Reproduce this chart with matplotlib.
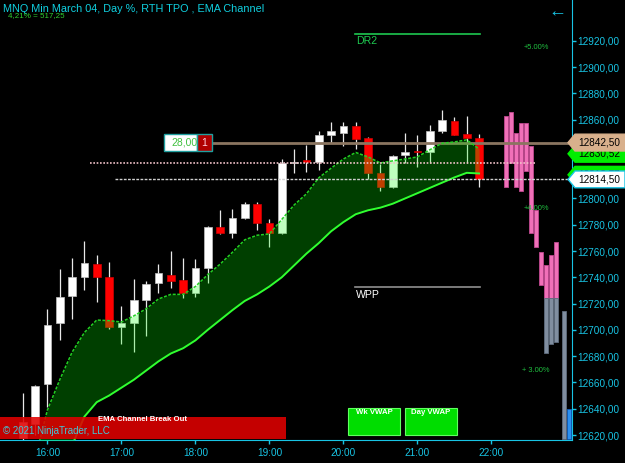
#/usr/bin/env python3

import numpy as np
import matplotlib.pyplot as plt
from matplotlib.patches import Rectangle, Polygon


# DATA
# 10-minute bars
bar_times = ['15:40', '15:50', '16:00', '16:10', '16:20', '16:30', '16:40', '16:50',
             '17:00', '17:10', '17:20', '17:30', '17:40', '17:50', '18:00', '18:10',
             '18:20', '18:30', '18:40', '18:50', '19:00', '19:10', '19:20', '19:30',
             '19:40', '19:50', '20:00', '20:10', '20:20', '20:30', '20:40', '20:50',
             '21:00', '21:10', '21:20', '21:30', '21:40', '21:50']
opens = [12618, 12628, 12659, 12705, 12726, 12740, 12750, 12740, 12702, 12705,
         12723, 12736, 12742, 12738, 12728, 12747, 12778, 12774, 12785, 12796,
         12781, 12774, 12827, 12829, 12828, 12848, 12850, 12855, 12846, 12819,
         12809, 12833, 12836, 12835, 12851, 12859, 12849, 12846]
highs = [12652, 12658, 12716, 12746, 12755, 12768, 12757, 12752, 12718, 12739,
         12737, 12750, 12760, 12755, 12754, 12779, 12791, 12792, 12797, 12797,
         12784, 12830, 12838, 12841, 12851, 12858, 12858, 12858, 12847, 12826,
         12833, 12850, 12848, 12856, 12867, 12862, 12863, 12849]
lows = [12612, 12620, 12641, 12692, 12708, 12730, 12721, 12701, 12689, 12683,
        12695, 12728, 12732, 12724, 12725, 12736, 12773, 12770, 12784, 12776,
        12763, 12773, 12819, 12820, 12822, 12842, 12840, 12838, 12815, 12806,
        12808, 12827, 12824, 12827, 12850, 12848, 12827, 12809]
closes = [12630, 12657, 12704, 12725, 12740, 12751, 12740, 12702, 12705, 12723,
          12735, 12743, 12737, 12728, 12747, 12778, 12774, 12785, 12796, 12781,
          12774, 12827, 12828, 12828, 12848, 12851, 12855, 12845, 12819, 12809,
          12832, 12835, 12835, 12851, 12860, 12848, 12846, 12814.5]

ema_upper = [12560, 12602, 12639, 12662, 12683, 12698, 12707.5, 12707, 12706, 12710.6,
             12716, 12723.5, 12727, 12727, 12733, 12742, 12750, 12759, 12768.5, 12772,
             12773, 12784, 12795, 12803.5, 12815.7, 12823, 12830, 12835, 12831.6, 12827,
             12828.6, 12830, 12831.6, 12837, 12842, 12843, 12844.6, 12837.7]
ema_lower = [12500, 12520, 12545, 12578, 12612, 12634, 12645, 12650, 12656, 12662,
             12669, 12676, 12682, 12686, 12692, 12700, 12707.5, 12715, 12722, 12727,
             12733, 12740, 12749, 12758, 12766, 12775, 12782, 12788, 12791, 12793,
             12796, 12800, 12804, 12808, 12812, 12816, 12819.5, 12819]

# profile columns after 22:00 (minutes past 22:00)
col_minutes = [12, 16, 20, 24, 28, 32, 36, 40, 44, 48, 52, 59]
col_tops = [12863, 12866, 12850, 12857.5, 12857.5, 12840, 12791, 12759, 12749.5, 12757, 12767, 12714.5]
col_bottoms = [12809, 12827, 12809, 12806, 12821, 12774, 12763, 12734, 12682.5, 12689, 12691, 12617]
col_split = 12724
blue_minute = 62.8
blue_top, blue_bottom = 12640, 12617

# levels
last_price = 12814.50
entry_price = 12842.50
dotted_level = 12827.0
dr2_level = 12925.3
wpp_level = 12732.7
pct_labels = ['+5.00%', '+4.00%', '+ 3.00%']
pct_prices = [12915, 12792, 12669]
ema_up_tag, ema_lo_tag = 12834.0, 12818.0
ema_up_text, ema_lo_text = '12830,52', '12818,77'

hour_ticks = [16, 17, 18, 19, 20, 21, 22]
price_ticks = list(range(12620, 12921, 20))

CYAN = '#18c4e4'


def to_hours(t):
    h, m = t.split(':')
    return int(h) + int(m) / 60


def fmt_price(v):
    return f"{v:.2f}".replace('.', ',')


# VISUALIZATION
def visualize():
    plt.rcParams['font.family'] = ['Liberation Sans', 'DejaVu Sans']
    fig = plt.figure(figsize=(6.25, 4.63), dpi=100, facecolor='black')
    ax = fig.add_axes([0, 23 / 463, 572 / 625, 440 / 463], facecolor='black')

    x = np.array([to_hours(t) for t in bar_times])
    o, h, l, c = map(np.array, (opens, highs, lows, closes))
    w = 0.105

    # candles
    ax.vlines(x, l, h, color='#e8e8e8', lw=0.9, zorder=2)
    up = c >= o
    body = np.maximum(np.abs(c - o), 0.8)
    ax.bar(x[up], body[up], bottom=o[up], width=w, color='white',
           edgecolor='#c0c0c0', lw=0.5, zorder=3)
    ax.bar(x[~up], body[~up], bottom=c[~up], width=w, color='#ff0000',
           edgecolor='#d00000', lw=0.5, zorder=3)

    # EMA channel
    ax.fill_between(x, ema_lower, ema_upper, color='#00ff00', alpha=0.25, lw=0, zorder=4)
    ax.plot(x, ema_upper, color='#22d022', lw=1.1, ls=(0, (2, 1)), zorder=5)
    ax.plot(x, ema_lower, color='#30ff30', lw=1.4, zorder=5)

    # profile columns
    cx = 22 + np.array(col_minutes) / 60
    cw = 3.3 / 60
    for xi, top, bot in zip(cx, col_tops, col_bottoms):
        if top > col_split:
            b = max(bot, col_split)
            ax.bar(xi, top - b, bottom=b, width=cw, color='#f070b8',
                   edgecolor='#c04890', lw=0.6, zorder=3)
        if bot < col_split:
            t = min(top, col_split)
            ax.bar(xi, t - bot, bottom=bot, width=cw, color='#808ea0',
                   edgecolor='#5f6d7e', lw=0.6, zorder=3)
    ax.bar(22 + blue_minute / 60, blue_top - blue_bottom, bottom=blue_bottom,
           width=cw, color='#2a8ff0', edgecolor='#1060c0', lw=0.6, zorder=3)

    # horizontal levels
    ax.axhline(entry_price, xmin=212 / 572, xmax=1, color='#8b7560', lw=2, zorder=3)
    ax.axhline(dotted_level, xmin=90 / 572, xmax=535 / 572, color='#f0c0c8', lw=1.2,
               ls=(0, (1, 1)), zorder=6)
    ax.axhline(last_price, xmin=115 / 572, xmax=1, color='#d0d0d0', lw=1,
               ls=(0, (2, 1)), zorder=6)
    ax.axhline(dr2_level, xmin=355 / 572, xmax=480 / 572, color='#1ec850', lw=1.2)
    ax.axhline(wpp_level, xmin=355 / 572, xmax=480 / 572, color='#909090', lw=1.2)
    ytr = ax.get_yaxis_transform()
    ax.text(356 / 572, dr2_level - 2, 'DR2', color='#1ec850', fontsize=7.6,
            va='top', transform=ytr)
    ax.text(356 / 572, wpp_level - 2, 'WPP', color='white', fontsize=7.6,
            va='top', transform=ytr)
    for lab, p in zip(pct_labels, pct_prices):
        ax.text(536 / 572, p, lab, color='#20c040', fontsize=5.4, ha='center',
                va='center', transform=ytr)

    # order box
    ax.add_patch(Rectangle((164 / 572, entry_price - 6.3), 33 / 572, 12.6,
                           transform=ytr, facecolor='white', edgecolor='#20a0a0',
                           lw=1, zorder=7))
    ax.add_patch(Rectangle((197 / 572, entry_price - 6.3), 15 / 572, 12.6,
                           transform=ytr, facecolor='#b00000', edgecolor='#20a0a0',
                           lw=1, zorder=7))
    ax.text(185 / 572, entry_price, '28,00', color='#40c040', fontsize=7.5,
            ha='center', va='center', transform=ytr, zorder=8)
    ax.text(204.5 / 572, entry_price, '1', color='#ffd0e0', fontsize=7.5,
            ha='center', va='center', transform=ytr, zorder=8)

    # right-axis price tags
    def tag(p, face, edge, txt, z):
        hh = 6.4
        pts = [(568 / 572, p), (575 / 572, p + hh), (625 / 572, p + hh),
               (625 / 572, p - hh), (575 / 572, p - hh)]
        ax.add_patch(Polygon(pts, closed=True, transform=ytr, facecolor=face,
                             edgecolor=edge, lw=1, clip_on=False, zorder=z))
        ax.text(578 / 572, p, txt, color='black', fontsize=7.2, va='center',
                transform=ytr, clip_on=False, zorder=z)

    tag(ema_up_tag, '#00ee00', '#00ee00', ema_up_text, 8)
    tag(ema_lo_tag, '#00ee00', '#00ee00', ema_lo_text, 8)
    tag(entry_price, '#d8b08c', '#d8b08c', fmt_price(entry_price), 9)
    tag(last_price, 'white', CYAN, fmt_price(last_price), 9)

    # bottom banner and buttons
    ax.add_patch(Rectangle((0, 0.0023), 286 / 572, 0.05, transform=ax.transAxes,
                           facecolor='#e00000', alpha=0.88, lw=0, zorder=8))
    ax.text(143 / 572, 0.0465, 'EMA Channel Break Out', color='white',
            fontsize=5.6, fontweight='bold', ha='center', va='center',
            transform=ax.transAxes, zorder=9)
    ax.text(3 / 572, 0.021, '\u00a9 2021 NinjaTrader, LLC', color='#40c8d8',
            fontsize=7, va='center', transform=ax.transAxes, zorder=9)
    for x0, lab in [(348, 'Wk VWAP'), (405, 'Day VWAP')]:
        ax.add_patch(Rectangle((x0 / 572, 5 / 440), 52 / 572, 27 / 440,
                               transform=ax.transAxes, facecolor='#00dd00',
                               edgecolor='#60ff60', lw=0.8, zorder=8))
        ax.text((x0 + 26) / 572, 28 / 440, lab, color='white', fontsize=5.6,
                fontweight='bold', ha='center', va='center',
                transform=ax.transAxes, zorder=9)

    # header texts
    ax.text(3 / 572, 1 - 9 / 440, 'MNQ Min March 04, Day %, RTH TPO , EMA Channel',
            color='#10d0e0', fontsize=7.8, va='center', transform=ax.transAxes)
    ax.text(8 / 572, 1 - 16 / 440, '4,21% = 517,25', color='#30d030', fontsize=5.8,
            va='center', transform=ax.transAxes)
    ax.text(557 / 572, 1 - 12 / 440, '\u2190', color=CYAN, fontsize=13,
            ha='center', va='center', transform=ax.transAxes)

    # axes
    ax.set_xlim(15.3595, 23.089)
    ax.set_ylim(12616.2, 12951.0)
    ax.yaxis.tick_right()
    ax.set_yticks(price_ticks)
    ax.set_yticklabels([fmt_price(v) for v in price_ticks])
    ax.set_xticks(hour_ticks)
    ax.set_xticklabels([f"{hr}:00" for hr in hour_ticks])
    ax.tick_params(colors=CYAN, labelsize=7.2, length=3, width=1)
    ax.tick_params(axis='y', pad=1)
    ax.tick_params(axis='x', pad=3)
    for s in ('top', 'left'):
        ax.spines[s].set_visible(False)
    for s in ('right', 'bottom'):
        ax.spines[s].set_color(CYAN)

    fig.savefig('out.png', dpi=100, facecolor='black')


if __name__ == "__main__":
    visualize()
